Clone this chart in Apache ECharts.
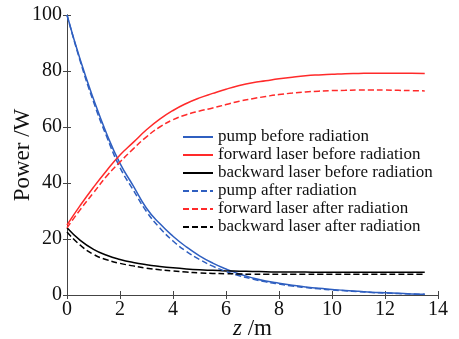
<!DOCTYPE html>
<html><head><meta charset="utf-8">
<script src="https://cdn.jsdelivr.net/npm/echarts@6/dist/echarts.min.js"></script>
<style>html,body{margin:0;padding:0;background:#fff}#c{width:459px;height:339px}</style>
</head><body><div id="c"></div>
<script>
const z = [0,0.5,1,1.5,2,2.5,3,3.5,4,4.5,5,5.5,6,6.5,7,7.5,8,8.5,9,9.5,10,10.5,11,11.5,12,12.5,13,13.5];
const pumpBefore = [100,84,70,57.5,47,39,31,25.5,21,17.2,14.0,11.4,9.3,7.5,6.1,5.0,4.2,3.5,2.9,2.4,2.0,1.6,1.3,1.0,0.8,0.6,0.4,0.3];
const pumpAfter = [100,83.5,69,56.5,45.5,37.5,29.8,24,19.3,15.6,12.7,10.3,8.4,6.9,5.7,4.7,3.9,3.2,2.7,2.2,1.8,1.5,1.2,0.9,0.7,0.5,0.35,0.25];
const fwdBefore = [25,32,38.5,44.5,50,54.5,59,62.8,65.9,68.4,70.4,72,73.5,74.8,75.8,76.5,77.2,77.8,78.3,78.6,78.8,79,79.1,79.2,79.2,79.2,79.2,79.1];
const fwdAfter = [24,30.5,36.5,42.5,47.5,52.2,56.5,60,62.6,64.4,65.7,66.8,68,69.2,70.1,70.9,71.6,72.1,72.5,72.8,73,73.1,73.2,73.2,73.2,73.1,73,72.9];
const bwdBefore = [24,19.5,16.3,14.2,12.7,11.6,10.8,10.2,9.7,9.3,9.0,8.8,8.6,8.5,8.4,8.3,8.2,8.2,8.2,8.1,8.1,8.1,8.1,8.1,8.1,8.1,8.1,8.1];
const bwdAfter = [22.5,17.8,14.5,12.6,11.3,10.4,9.6,9.0,8.6,8.2,7.9,7.7,7.6,7.5,7.4,7.4,7.4,7.4,7.4,7.4,7.4,7.4,7.4,7.4,7.4,7.4,7.4,7.4];
const names = ['pump before radiation','forward laser before radiation','backward laser before radiation','pump after radiation','forward laser after radiation','backward laser after radiation'];
const datas = [pumpBefore,fwdBefore,bwdBefore,pumpAfter,fwdAfter,bwdAfter];
const colors = ['#2f5fc0','#ff2a2a','#000000','#2f5fc0','#ff2a2a','#000000'];
const dashed = [false,false,false,true,true,true];

const FONT = 'Liberation Serif';
const chart = echarts.init(document.getElementById('c'));
const axisLine = {show:true, lineStyle:{color:'#444', width:1}};
const tick = {inside:true, length:4, lineStyle:{color:'#444'}};
chart.setOption({
  animation:false,
  color: colors,
  grid:{left:67, right:21, top:15, bottom:44, containLabel:false, outerBoundsMode:'none'},
  legend:{
    orient:'vertical', left:177, top:123, itemWidth:30, itemHeight:18, itemGap:0,
    itemStyle:{opacity:0},
    data:names,
    textStyle:{fontFamily:FONT, fontSize:17, lineHeight:18, color:'#111'}
  },
  xAxis:[{
    type:'value', min:0, max:14, interval:2,
    axisLine, axisTick:tick, splitLine:{show:false},
    axisLabel:{fontFamily:FONT, fontSize:20, color:'#111', margin:5},
    name:'{i|z} /m', nameLocation:'middle', nameGap:22, nameMoveOverlap:false,
    nameTextStyle:{fontFamily:FONT, fontSize:23, color:'#111', rich:{i:{fontFamily:FONT, fontStyle:'italic', fontSize:23}}}
  },{
    type:'value', min:0, max:14, interval:2, position:'top',
    axisLine, axisTick:tick, axisLabel:{show:false}, splitLine:{show:false}
  }],
  yAxis:[{
    type:'value', min:0, max:100, interval:20,
    axisLine, axisTick:tick, splitLine:{show:false},
    axisLabel:{fontFamily:FONT, fontSize:20, color:'#111', margin:5},
    name:'Power /W', nameLocation:'middle', nameGap:33, nameRotate:90, nameMoveOverlap:false,
    nameTextStyle:{fontFamily:FONT, fontSize:23, color:'#111'}
  },{
    type:'value', min:0, max:100, interval:20, position:'right',
    axisLine, axisTick:tick, axisLabel:{show:false}, splitLine:{show:false}
  }],
  series: names.map((n,i)=>({
    name:n, type:'line', smooth:true, showSymbol:false, symbol:'none',
    data: z.map((x,j)=>[x, datas[i][j]]),
    lineStyle:{color:colors[i], width:1.5, type: dashed[i]?[6,3]:'solid'},
    itemStyle:{color:colors[i]},
    z: dashed[i]?3:2
  }))
});
</script></body></html>
